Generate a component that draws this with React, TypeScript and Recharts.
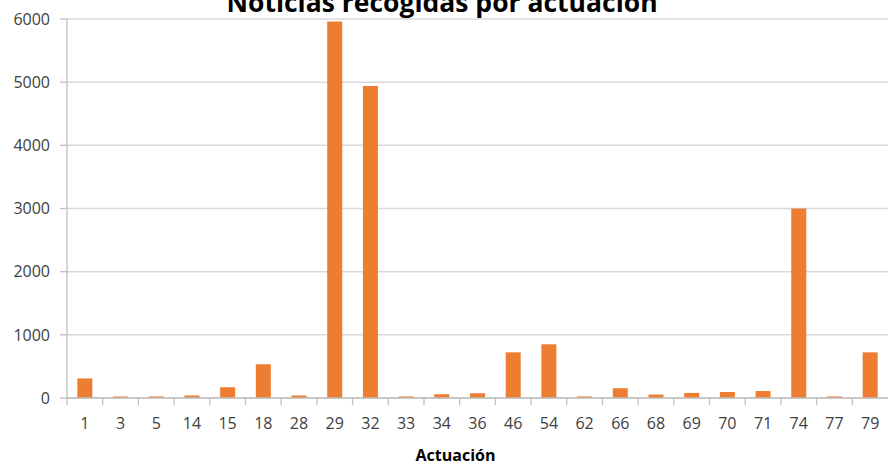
import { BarChart, Bar, XAxis, YAxis, CartesianGrid } from 'recharts'

const categories = ['1', '3', '5', '14', '15', '18', '28', '29', '32', '33', '34', '36', '46', '54', '62', '66', '68', '69', '70', '71', '74', '77', '79']
const noticias = [310, 25, 25, 40, 170, 535, 40, 5960, 4940, 25, 60, 75, 723, 850, 25, 155, 55, 80, 95, 110, 3000, 25, 723]
const yTicks = [0, 1000, 2000, 3000, 4000, 5000, 6000]

const data = categories.map((c, i) => ({ actuacion: c, noticias: noticias[i] }))

const FONT = '"Open Sans", "Noto Sans", sans-serif'
const AXIS_GRAY = '#bfbfbf'
const TEXT_GRAY = '#404040'
const BAND = 821 / categories.length

function XTick(props: any) {
  const { x, y, payload } = props
  const left = x - BAND / 2
  return (
    <g>
      <line x1={left} y1={y} x2={left} y2={y + 7} stroke={AXIS_GRAY} strokeWidth={1.3} />
      <text x={x} y={y + 31} textAnchor="middle" fill={TEXT_GRAY} fontSize={16} fontFamily={FONT}>
        {payload.value}
      </text>
    </g>
  )
}

export default function App() {
  return (
    <div style={{ width: 888, height: 465, position: 'relative', background: '#fff' }}>
      <style>{`body{margin:0}`}</style>
      <BarChart
        width={888}
        height={465}
        data={data}
        margin={{ top: 19, right: 0, bottom: 0, left: 0 }}
        barCategoryGap="29%"
      >
        {/* title sits partly above the top edge, as in the original export */}
        <text x={442} y={12} textAnchor="middle" fontSize={26.5} fontWeight="bold" fontFamily={FONT} fill="#000">
          Noticias recogidas por actuación
        </text>
        <CartesianGrid vertical={false} stroke="#d9d9d9" strokeWidth={1.5} />
        <XAxis
          dataKey="actuacion"
          interval={0}
          height={67}
          tickSize={0}
          tickMargin={0}
          tickLine={false}
          tick={<XTick />}
          stroke={AXIS_GRAY}
          strokeWidth={1.3}
          label={{ value: 'Actuación', position: 'insideBottom', offset: 4, dx: -22, fill: '#000', fontSize: 16, fontWeight: 'bold', fontFamily: FONT }}
        />
        <YAxis
          domain={[0, 6000]}
          ticks={yTicks}
          width={67}
          tickSize={7}
          tickMargin={10}
          stroke={AXIS_GRAY}
          strokeWidth={1.3}
          tick={{ fill: TEXT_GRAY, fontSize: 16, fontFamily: FONT }}
        />
        <Bar dataKey="noticias" fill="#ed7d31" isAnimationActive={false} />
      </BarChart>
    </div>
  )
}
